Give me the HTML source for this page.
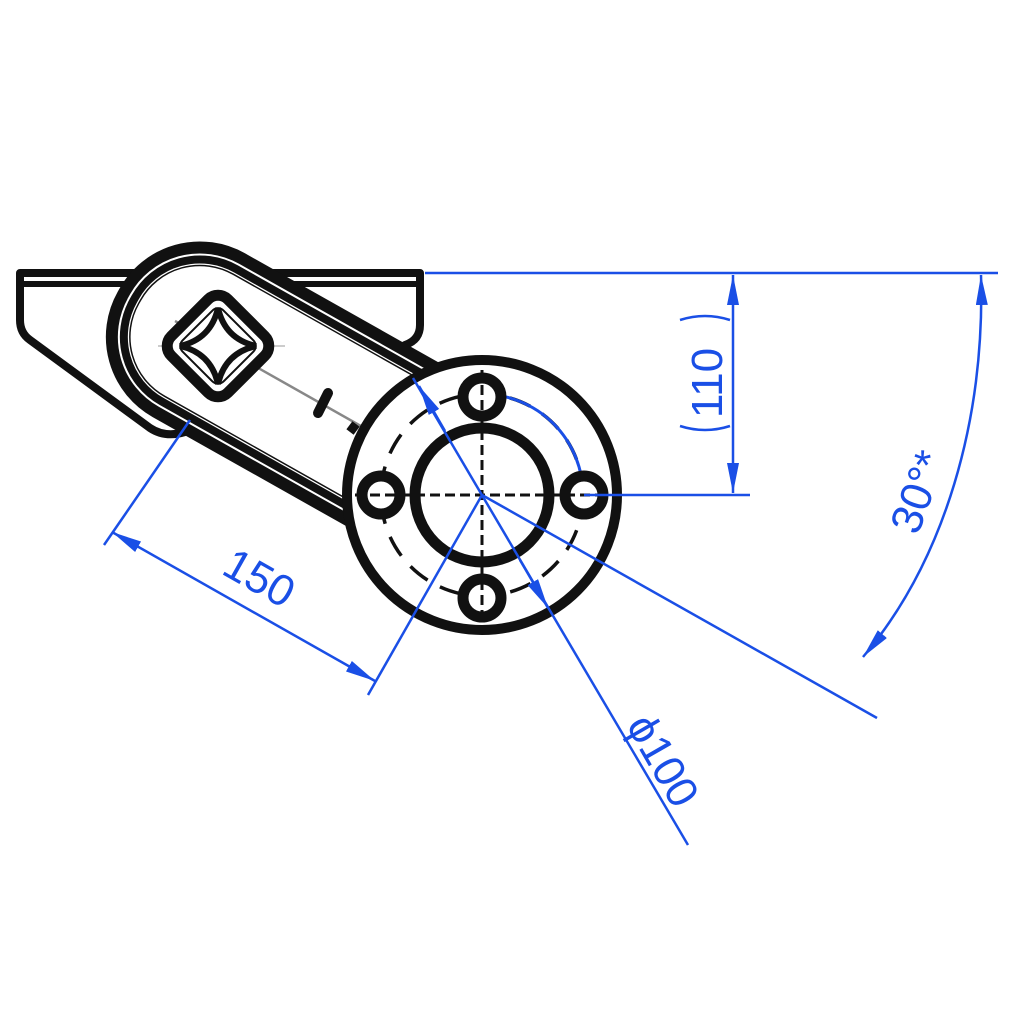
<!DOCTYPE html>
<html><head><meta charset="utf-8"><style>html,body{margin:0;padding:0;background:#fff}svg{display:block}</style></head>
<body>
<svg width="1024" height="1024" viewBox="0 0 1024 1024" xmlns="http://www.w3.org/2000/svg">
<defs>
<marker id="ar" viewBox="0 0 30 12" refX="30" refY="6" markerWidth="30" markerHeight="12" markerUnits="userSpaceOnUse" orient="auto">
<path d="M0,0 L30,6 L0,12 z" fill="#1a4fe6"/></marker>
<marker id="as" viewBox="0 0 30 12" refX="0" refY="6" markerWidth="30" markerHeight="12" markerUnits="userSpaceOnUse" orient="auto">
<path d="M30,0 L0,6 L30,12 z" fill="#1a4fe6"/></marker>
</defs>
<rect width="1024" height="1024" fill="#fff"/>

<!-- bracket -->
<path d="M20,273 L420,273 L420,325 Q420,340 405,345 L380,360 L185,432 Q165,438 150,428 L30,340 Q20,333 20,320 Z" fill="none" stroke="#111" stroke-width="8" stroke-linejoin="round"/>
<line x1="24" y1="284" x2="416" y2="284" stroke="#111" stroke-width="6"/>

<!-- arm -->
<g transform="translate(218,346) rotate(29.4)">
<rect x="-108" y="-88" width="470" height="176" rx="86" fill="#fff" stroke="#111" stroke-width="12"/>
<rect x="-96" y="-76" width="446" height="152" rx="74" fill="none" stroke="#111" stroke-width="8"/>
<rect x="-90" y="-70" width="434" height="140" rx="68" fill="none" stroke="#111" stroke-width="1.5"/>
</g>

<!-- centre line gray -->
<line x1="175" y1="321" x2="545" y2="530" stroke="#888" stroke-width="2.5"/>
<line x1="218" y1="296" x2="218" y2="398" stroke="#bbb" stroke-width="1.5"/>
<line x1="158" y1="346" x2="285" y2="346" stroke="#bbb" stroke-width="1.5"/>

<!-- square -->
<g transform="translate(218,346) rotate(45)">
<rect x="-40" y="-40" width="80" height="80" rx="14" fill="#fff" stroke="#111" stroke-width="11"/>
<rect x="-29" y="-29" width="58" height="58" rx="8" fill="none" stroke="#111" stroke-width="2"/>
</g>
<path d="M218,308 Q225,339 256,346 Q225,353 218,384 Q211,353 180,346 Q211,339 218,308 Z" fill="none" stroke="#111" stroke-width="6"/>
<!-- small slots -->
<line x1="318" y1="413" x2="328" y2="393" stroke="#111" stroke-width="10" stroke-linecap="round"/>
<line x1="350" y1="432" x2="356" y2="424" stroke="#111" stroke-width="9"/>

<!-- flange -->
<circle cx="482" cy="495" r="135" fill="#fff" stroke="#111" stroke-width="10"/>
<circle cx="482" cy="495" r="101" fill="none" stroke="#111" stroke-width="3.5" stroke-dasharray="22,14"/>
<path d="M482,394 A101,101 0 0 1 583,495" fill="none" stroke="#1a4fe6" stroke-width="3"/>
<circle cx="482" cy="495" r="67" fill="#fff" stroke="#111" stroke-width="11"/>
<g fill="#fff" stroke="#111" stroke-width="11">
<circle cx="482" cy="397" r="19"/><circle cx="381" cy="495" r="19"/><circle cx="584" cy="495" r="19"/><circle cx="482" cy="598" r="19"/>
</g>
<g stroke="#111" stroke-width="3" stroke-dasharray="10,5">
<line x1="482" y1="370" x2="482" y2="625"/>
<line x1="355" y1="495" x2="610" y2="495"/>
</g>
<line x1="584" y1="495" x2="750" y2="495" stroke="#1a4fe6" stroke-width="2.5"/>

<!-- blue dims -->
<g stroke="#1a4fe6" stroke-width="2.5" fill="none">
<line x1="425" y1="273" x2="998" y2="273"/>
<line x1="733" y1="275" x2="733" y2="493" marker-start="url(#as)" marker-end="url(#ar)"/>
<path d="M680,320 Q705,312 730,320"/><path d="M680,426 Q705,434 730,426"/>
<path d="M981,275 C985,420 945,560 863,657" marker-start="url(#as)" marker-end="url(#ar)"/>
<line x1="482" y1="495" x2="877" y2="718"/>
<line x1="413" y1="378" x2="688" y2="845"/>
<line x1="419" y1="386" x2="445" y2="431" marker-start="url(#as)"/>
<line x1="520" y1="560" x2="548" y2="608" marker-end="url(#ar)"/>
<line x1="482" y1="495" x2="368" y2="695"/>
<line x1="190" y1="420" x2="104" y2="545"/>
<line x1="112" y1="532" x2="375" y2="681" marker-start="url(#as)" marker-end="url(#ar)"/>
</g>
<g fill="#1a4fe6" font-family="Liberation Sans, sans-serif" font-size="44">
<text transform="translate(722,383) rotate(-90)" text-anchor="middle">110</text>
<text transform="translate(932,497) rotate(-70)" text-anchor="middle">30°*</text>
<text transform="translate(252,591) rotate(29.4)" text-anchor="middle">150</text>
<text transform="translate(650,768) rotate(60)" text-anchor="middle">ϕ100</text>
</g>
</svg>
</body></html>
